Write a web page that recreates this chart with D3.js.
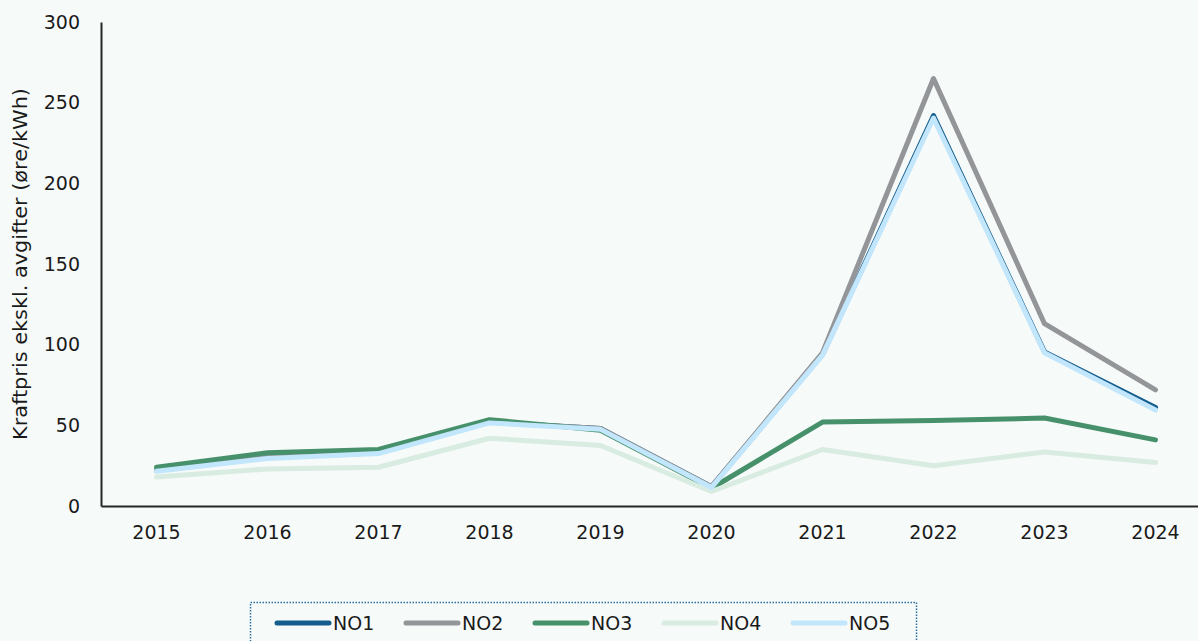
<!DOCTYPE html>
<html>
<head>
<meta charset="utf-8">
<script src="https://cdn.jsdelivr.net/npm/d3@7"></script>
<style>
  html, body { margin: 0; padding: 0; background: #f6faf9; }
  svg { display: block; font-family: "DejaVu Sans", sans-serif; }
</style>
</head>
<body>
<svg id="chart" width="1198" height="641"></svg>
<script>
//
// Data
//
const years = ["2015", "2016", "2017", "2018", "2019", "2020", "2021", "2022", "2023", "2024"];
const no1 = [22, 30, 33, 52, 48, 12, 94, 242, 95.5, 61];
const no2 = [22, 30, 33, 52, 48, 12, 95, 265, 113, 72];
const no3 = [24, 33, 35, 53.5, 47, 11, 52, 53, 54.5, 41];
const no4 = [18, 23, 24, 42, 37.5, 9, 35, 25, 33.5, 27];
const no5 = [21.5, 29.5, 32.5, 51.5, 47.5, 11.5, 93.5, 240.5, 95, 59.5];
const yTicks = [0, 50, 100, 150, 200, 250, 300];
const yLabel = "Kraftpris ekskl. avgifter (øre/kWh)";

// series in drawing order (last on top)
const series = [
  { name: "NO1", values: no1, color: "#155d8d" },
  { name: "NO2", values: no2, color: "#939598" },
  { name: "NO3", values: no3, color: "#46916b" },
  { name: "NO4", values: no4, color: "#d9ece1" },
  { name: "NO5", values: no5, color: "#c2e6fb" }
];

//
// Layout
//
const width = 1198, height = 641;
const margin = { left: 101, top: 22, bottom: 506 };
const svg = d3.select("#chart");

const x = d3.scaleBand().domain(years).range([101, 1211]);
const y = d3.scaleLinear().domain([0, 300]).range([margin.bottom, margin.top]);
const cx = d => x(d) + x.bandwidth() / 2;

// y axis
const yAxis = svg.append("g")
  .attr("transform", `translate(${margin.left},0)`)
  .call(d3.axisLeft(y).tickValues(yTicks).tickSize(0).tickPadding(21));
yAxis.select(".domain").attr("stroke", "#262626").attr("stroke-width", 2);
yAxis.selectAll("text").attr("font-size", 19).attr("fill", "#1a1a1a")
  .attr("font-family", "DejaVu Sans, sans-serif");

// x axis
const xAxis = svg.append("g")
  .attr("transform", `translate(0,${margin.bottom})`)
  .call(d3.axisBottom(x).tickSize(0).tickPadding(20));
xAxis.select(".domain").attr("stroke", "#262626").attr("stroke-width", 2);
xAxis.selectAll("text").attr("font-size", 19).attr("fill", "#1a1a1a")
  .attr("font-family", "DejaVu Sans, sans-serif");

svg.append("text")
  .attr("transform", `translate(27,${(margin.top + margin.bottom) / 2}) rotate(-90)`)
  .attr("text-anchor", "middle")
  .attr("font-size", 19)
  .attr("textLength", 352)
  .attr("lengthAdjust", "spacingAndGlyphs")
  .attr("fill", "#1a1a1a")
  .text(yLabel);

// lines
const line = d3.line()
  .x((d, i) => cx(years[i]))
  .y(d => y(d));

svg.append("g").selectAll("path")
  .data(series)
  .join("path")
  .attr("d", s => line(s.values))
  .attr("fill", "none")
  .attr("stroke", s => s.color)
  .attr("stroke-width", 5)
  .attr("stroke-linejoin", "round")
  .attr("stroke-linecap", "round");

//
// Legend
//
svg.append("rect")
  .attr("x", 250.5).attr("y", 602.5)
  .attr("width", 666).attr("height", 60)
  .attr("fill", "none")
  .attr("stroke", "#2a6f9e")
  .attr("stroke-width", 1.5)
  .attr("stroke-dasharray", "1.5,1.5");

const legendX = d3.scalePoint().domain(series.map(s => s.name)).range([275, 791]);
const item = svg.append("g").selectAll("g")
  .data(series)
  .join("g")
  .attr("transform", s => `translate(${legendX(s.name)},623)`);
item.append("line")
  .attr("x1", 2).attr("x2", 54)
  .attr("stroke", s => s.color)
  .attr("stroke-width", 5)
  .attr("stroke-linecap", "round");
item.append("text")
  .attr("x", 58).attr("dy", "0.35em")
  .attr("font-size", 19)
  .attr("fill", "#1a1a1a")
  .text(s => s.name);
</script>
</body>
</html>
